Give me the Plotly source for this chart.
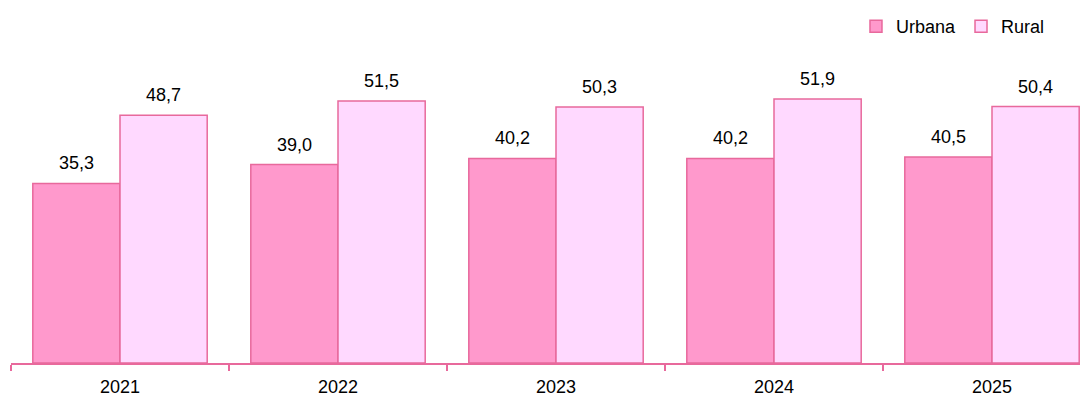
import plotly.graph_objects as go

years = [2021, 2022, 2023, 2024, 2025]
year_labels = ["2021", "2022", "2023", "2024", "2025"]
urbana = [35.3, 39.0, 40.2, 40.2, 40.5]
rural = [48.7, 51.5, 50.3, 51.9, 50.4]

line_col = "#E8699C"
FONT = "Liberation Sans, Arial"
BAR_W = 0.4
fig = go.Figure()
fig.add_trace(go.Bar(name="Urbana", x=years, y=urbana, width=BAR_W, offset=-BAR_W,
                     marker=dict(color="#FF99CC", line=dict(color=line_col, width=1.5))))
fig.add_trace(go.Bar(name="Rural", x=years, y=rural, width=BAR_W, offset=0,
                     marker=dict(color="#FFD9FF", line=dict(color=line_col, width=1.5))))

anns = []
for i, yr in enumerate(years):
    for val, xpos in ((urbana[i], yr - BAR_W / 2), (rural[i], yr + BAR_W / 2)):
        anns.append(dict(x=xpos, y=val, xref="x", yref="y", yshift=8,
                         text=f"{val:.1f}".replace(".", ","), showarrow=False,
                         yanchor="bottom", font=dict(size=18, color="#000000", family=FONT)))

fig.update_layout(
    width=1088, height=397,
    margin=dict(l=3, r=0, t=10, b=42, autoexpand=False),
    paper_bgcolor="white", plot_bgcolor="white",
    barmode="overlay",
    separators=",.",
    font=dict(family=FONT, size=18, color="#000000"),
    showlegend=True,
    legend=dict(orientation="h", xref="container", yref="container",
                x=0.7794, y=1.0, xanchor="left", yanchor="top",
                font=dict(size=18), bgcolor="rgba(0,0,0,0)", itemwidth=30,
                traceorder="normal"),
    annotations=anns,
    xaxis=dict(type="linear", range=[years[0] - 0.5, years[0] - 0.5 + 1085 / 218],
               showline=True, linecolor=line_col, linewidth=2,
               tickmode="array", tickvals=years, ticktext=year_labels,
               ticks="outside", ticklen=6, tickcolor="rgba(0,0,0,0)",
               ticklabelstandoff=0,
               minor=dict(tickmode="linear", tick0=years[0] - 0.5, dtick=1,
                          ticks="outside", ticklen=6, tickwidth=1.5, tickcolor=line_col,
                          showgrid=False),
               showgrid=False, zeroline=False, tickfont=dict(size=18)),
    yaxis=dict(range=[0, 67.8], showgrid=False, zeroline=False, showline=False,
               showticklabels=False, ticks=""),
)
fig.write_html("out.html")
